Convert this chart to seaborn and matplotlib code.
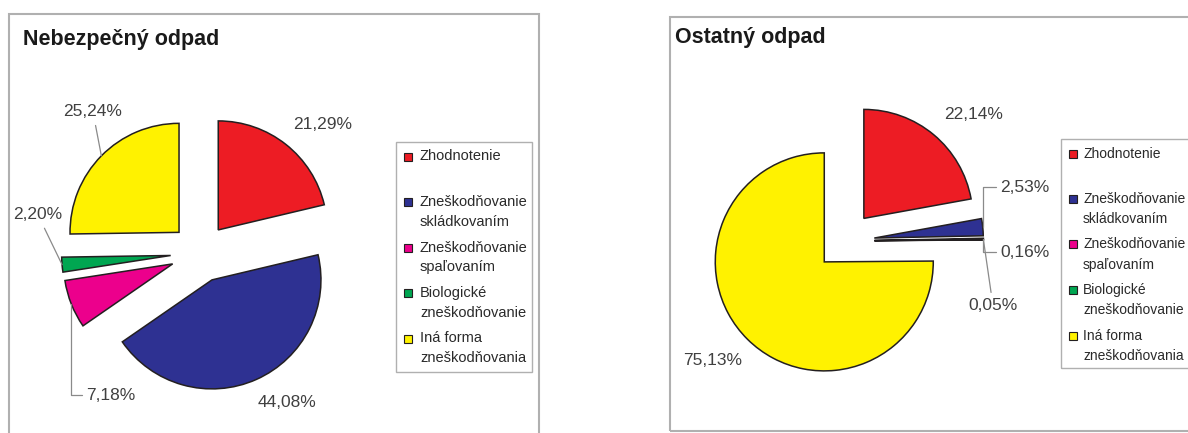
import matplotlib
matplotlib.use("Agg")
import numpy as np
import matplotlib.pyplot as plt
from matplotlib.patches import Rectangle
import seaborn as sns

# --- data -------------------------------------------------------------
categories = [
    "Zhodnotenie",
    "Zneškodňovanie\nskládkovaním",
    "Zneškodňovanie\nspaľovaním",
    "Biologické\nzneškodňovanie",
    "Iná forma\nzneškodňovania",
]
nebezpecny_odpad = [21.29, 44.08, 7.18, 2.20, 25.24]
ostatny_odpad = [22.14, 2.53, 0.16, 0.05, 75.13]
titles = ["Nebezpečný odpad", "Ostatný odpad"]
slice_colors = ["#ED1C24", "#2E3192", "#EC008C", "#00A651", "#FFF200"]

# --- layout (pixels of a 1188x433 canvas) -----------------------------
W, H, DPI = 1188, 433, 100
R_PX = 109.0          # pie radius in pixels
EXPLODE = 0.27

sns.set_theme(style="white")
plt.rcParams["font.family"] = ["Liberation Sans", "DejaVu Sans"]
palette = sns.color_palette(slice_colors)

fig = plt.figure(figsize=(W / DPI, H / DPI), dpi=DPI)
fig.patch.set_facecolor("white")


def fx(px):
    return px / W


def fy(py):
    return 1 - py / H


panels = [
    dict(values=nebezpecny_odpad, title=titles[0], ax_px=(0, 594), center=(200, 253),
         frame=(9, 14, 539, 460), title_xy=(23, 39),
         legend_box=(396, 142, 532, 372), legend_x=(408, 420), legend_fs=10.5,
         label_pos=[(1.128, 1.183), (0.798, -1.367), (-0.817, -1.303),
                    (-1.486, 0.349), (-0.982, 1.294)],
         leaders=[None, None, "elbow", "straight", "straight"]),
    dict(values=ostatny_odpad, title=titles[1], ax_px=(594, 1188), center=(845, 241),
         frame=(670, 17, 1210, 431), title_xy=(675, 38),
         legend_box=(1061, 139, 1210, 368), legend_x=(1073, 1083), legend_fs=10.0,
         label_pos=[(1.183, 1.165), (1.651, 0.495), (1.651, -0.101),
                    (1.358, -0.596), (-1.211, -1.092)],
         leaders=[None, "elbow", "elbow", "straight", None]),
]

label_color = "#404040"
edge_color = "#231F20"
leader_color = "#8a8a8a"
frame_color = "#b0b0b0"

for p in panels:
    # outer chart frame
    x0, y0, x1, y1 = p["frame"]
    fig.patches.append(Rectangle((fx(x0), fy(y1)), fx(x1 - x0), (y1 - y0) / H,
                                 transform=fig.transFigure, fill=False,
                                 edgecolor=frame_color, linewidth=1.5, clip_on=False))

    left, right = p["ax_px"]
    cx, cy = p["center"]
    ax = fig.add_axes([fx(left), 0, (right - left) / W, 1])
    wedges, _ = ax.pie(p["values"], colors=palette, startangle=90, counterclock=False,
                       explode=[EXPLODE] * len(p["values"]), radius=1,
                       wedgeprops=dict(edgecolor=edge_color, linewidth=1.1))
    ax.set_aspect("auto")
    ax.set_xlim((left - cx) / R_PX, (right - cx) / R_PX)
    ax.set_ylim(-(H - cy) / R_PX, cy / R_PX)
    ax.axis("off")

    for w, v, pos, kind in zip(wedges, p["values"], p["label_pos"], p["leaders"]):
        txt = f"{v:.2f}".replace(".", ",") + "%"
        mid = np.deg2rad((w.theta1 + w.theta2) / 2)
        arc_pt = (w.center[0] + w.r * np.cos(mid), w.center[1] + w.r * np.sin(mid))
        if kind is None:
            ax.text(pos[0], pos[1], txt, ha="center", va="center",
                    fontsize=12.5, color=label_color)
        elif kind == "straight":
            ax.annotate(txt, xy=arc_pt, xytext=pos, ha="center", va="center",
                        fontsize=12.5, color=label_color,
                        arrowprops=dict(arrowstyle="-", color=leader_color, lw=0.9,
                                        shrinkA=2, shrinkB=0))
        else:
            ax.annotate(txt, xy=arc_pt, xytext=pos, ha="center", va="center",
                        fontsize=12.5, color=label_color,
                        arrowprops=dict(arrowstyle="-", color=leader_color, lw=0.9,
                                        shrinkA=1, shrinkB=0, relpos=(0, 0.5),
                                        connectionstyle="angle,angleA=0,angleB=90,rad=0"))

    # chart title
    fig.text(fx(p["title_xy"][0]), fy(p["title_xy"][1]), p["title"], ha="left",
             va="center", fontsize=15.5, fontweight="bold", color="#1a1a1a")

    # legend
    lx0, ly0, lx1, ly1 = p["legend_box"]
    fig.patches.append(Rectangle((fx(lx0), fy(ly1)), fx(lx1 - lx0), (ly1 - ly0) / H,
                                 transform=fig.transFigure, fill=False,
                                 edgecolor=frame_color, linewidth=1.0, clip_on=False))
    mx, tx = p["legend_x"]
    for i, (cat, col) in enumerate(zip(categories, palette)):
        ty = ly0 + 14.5 + 45.5 * i
        fig.patches.append(Rectangle((fx(mx - 4), fy(ty + 4)), fx(8), 8 / H,
                                     transform=fig.transFigure, facecolor=col,
                                     edgecolor=edge_color, linewidth=0.8))
        for j, line in enumerate(cat.split("\n")):
            fig.text(fx(tx), fy(ty + 20 * j), line, ha="left", va="center",
                     fontsize=p["legend_fs"], color="#2a2a2a")

fig.savefig("out.png", dpi=DPI, facecolor="white")
